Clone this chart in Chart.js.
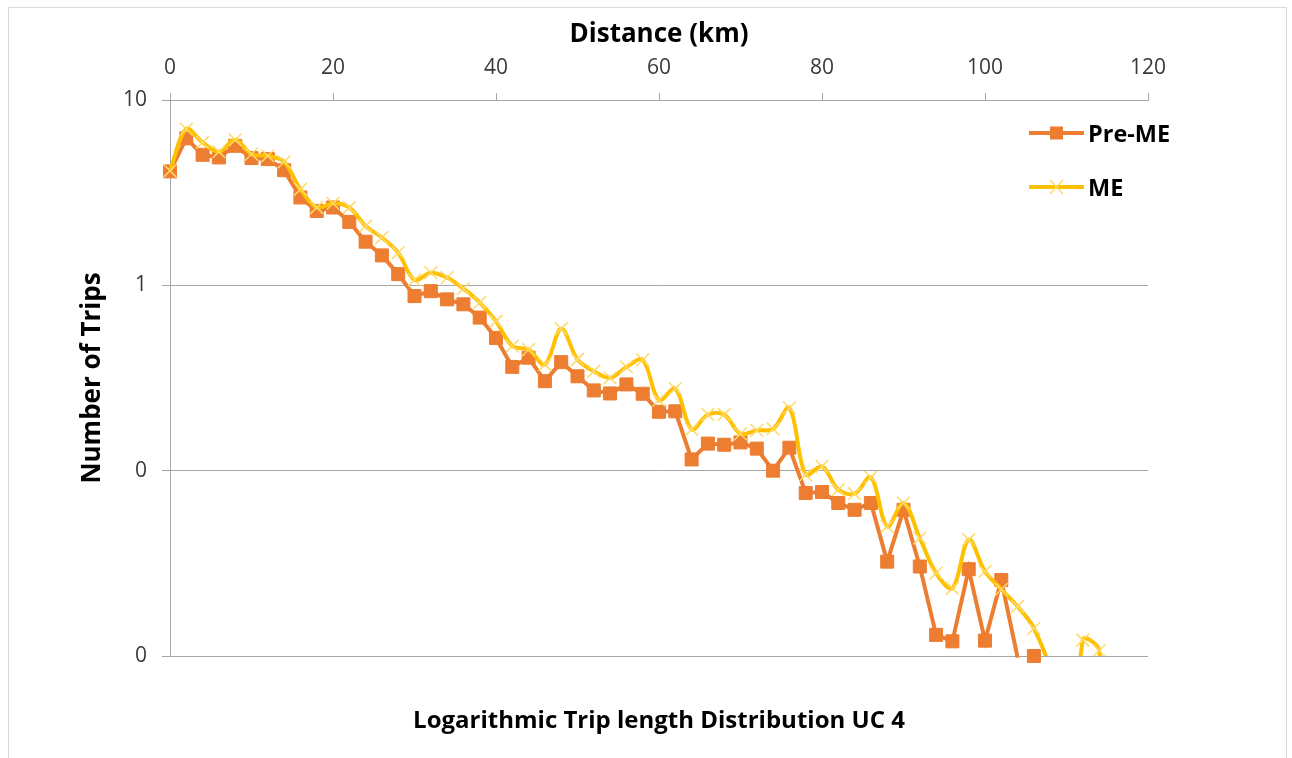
<!DOCTYPE html>
<html>
<head>
<meta charset="utf-8">
<title>Logarithmic Trip length Distribution UC 4</title>
<script src="https://cdn.jsdelivr.net/npm/chart.js@4"></script>
<style>
  html, body { margin: 0; padding: 0; background: #fff; }
  body { width: 1292px; height: 758px; position: relative; overflow: hidden; font-family: 'Open Sans', Lato, sans-serif; }
  #frame { position: absolute; left: 8px; top: 7px; width: 1279px; height: 780px; border: 1px solid #d9d9d9; box-sizing: border-box; }
  #wrap { position: absolute; left: 0; top: 0; width: 1292px; height: 758px; }
  .legend-item { position: absolute; left: 1029px; height: 30px; display: flex; align-items: center; font-weight: 700; font-size: 23.5px; color: #000; }
  .legend-item svg { margin-right: 4px; }
</style>
</head>
<body>
<div id="frame"></div>
<div id="wrap"><canvas id="tripChart" width="1292" height="758"></canvas></div>

<div class="legend-item" style="top:118px;">
  <svg width="55" height="20"><line x1="0" y1="10" x2="55" y2="10" stroke="#ED7D31" stroke-width="4"/><rect x="21" y="3.5" width="13" height="13" fill="#ED7D31"/></svg>
  <span>Pre-ME</span>
</div>
<div class="legend-item" style="top:172px;">
  <svg width="55" height="20"><line x1="0" y1="10" x2="55" y2="10" stroke="#FFC000" stroke-width="4"/><path d="M21 3 L34 17 M34 3 L21 17" stroke="#FFD966" stroke-width="1.5"/></svg>
  <span>ME</span>
</div>

<script>
// distance bins (km)
const distances = [0, 2, 4, 6, 8, 10, 12, 14, 16, 18, 20, 22, 24, 26, 28, 30, 32, 34, 36, 38,
    40, 42, 44, 46, 48, 50, 52, 54, 56, 58, 60, 62, 64, 66, 68, 70, 72, 74, 76, 78,
    80, 82, 84, 86, 88, 90, 92, 94, 96, 98, 100, 102, 104, 106, 108, 110, 112, 114, 116];

// number of trips (values below 0.01 fall under the axis)
const preME = [4.12, 6.21, 5.06, 4.90, 5.66, 4.86, 4.80, 4.18, 2.98, 2.52, 2.63, 2.20, 1.72, 1.45, 1.15, 0.875, 0.93, 0.84, 0.79, 0.67,
    0.52, 0.363, 0.407, 0.304, 0.385, 0.323, 0.271, 0.261, 0.292, 0.26, 0.208, 0.209, 0.115, 0.14, 0.138, 0.142, 0.1315, 0.10, 0.133, 0.0758,
    0.0767, 0.0669, 0.0615, 0.0669, 0.0323, 0.0615, 0.0304, 0.013, 0.012, 0.0294, 0.0121, 0.0257, 0.0098, 0.0100, null, null, null, null, null];

const me = [4.15, 6.97, 5.9, 5.26, 6.1, 5.1, 5.0, 4.64, 3.3, 2.63, 2.77, 2.63, 2.09, 1.81, 1.50, 1.07, 1.17, 1.10, 0.96, 0.81,
    0.64, 0.47, 0.45, 0.374, 0.583, 0.398, 0.344, 0.317, 0.363, 0.396, 0.24, 0.277, 0.167, 0.201, 0.201, 0.158, 0.165, 0.168, 0.218, 0.095,
    0.1055, 0.079, 0.0751, 0.092, 0.05, 0.0669, 0.0433, 0.028, 0.0232, 0.0424, 0.0286, 0.0229, 0.0185, 0.0141, 0.008, 0.001, 0.0122, 0.0107, 0.001];

const yTickValues = [0.01, 0.1, 1, 10];
const yTickLabels = ['0', '0', '1', '10'];
const xTickStep = 20;

const Y_MIN = 0.01, Y_MAX = 10;
const GRID = '#a6a6a6';

Chart.defaults.font.family = "'Open Sans', Lato, sans-serif";
Chart.defaults.color = '#3a3a3a';

const toPoints = arr => distances.map((d, i) => ({ x: d, y: arr[i] }));
const markerRadius = r => ctx => (ctx.raw && ctx.raw.y !== null && ctx.raw.y >= Y_MIN) ? r : 0;

new Chart(document.getElementById('tripChart'), {
    type: 'line',
    data: {
        datasets: [
            {
                label: 'ME',
                data: toPoints(me),
                order: 0,
                borderColor: '#FFC000',
                borderWidth: 4,
                tension: 0.35,
                pointStyle: 'crossRot',
                pointRadius: markerRadius(9),
                pointBorderColor: '#FFD966',
                pointBackgroundColor: '#FFD966',
                pointBorderWidth: 1.5,
                clip: { left: 12, top: 12, right: 12, bottom: 0 }
            },
            {
                label: 'Pre-ME',
                data: toPoints(preME),
                order: 1,
                borderColor: '#ED7D31',
                borderWidth: 4,
                tension: 0,
                pointStyle: 'rect',
                pointRadius: markerRadius(9.2),
                pointBorderColor: '#ED7D31',
                pointBackgroundColor: '#ED7D31',
                pointBorderWidth: 1,
                segment: {
                    borderColor: ctx => (preME[ctx.p0DataIndex] !== null && preME[ctx.p0DataIndex] < Y_MIN) ? 'rgba(0,0,0,0)' : undefined
                },
                clip: { left: 12, top: 12, right: 12, bottom: 8 }
            }
        ]
    },
    options: {
        responsive: false,
        animation: false,
        events: [],
        layout: { padding: { left: 0, top: 0, right: 144, bottom: 0 } },
        plugins: {
            legend: { display: false },
            tooltip: { enabled: false },
            title: {
                display: true,
                position: 'bottom',
                fullSize: false,
                text: 'Logarithmic Trip length Distribution UC 4',
                color: '#000',
                font: { size: 24, weight: 'bold' },
                padding: { top: 50.6, bottom: 22.6 }
            }
        },
        scales: {
            x: {
                type: 'linear',
                position: 'top',
                min: 0,
                max: 120,
                ticks: { stepSize: xTickStep, font: { size: 21 }, padding: 12 },
                grid: { drawOnChartArea: false, color: GRID, tickLength: 7 },
                border: { display: true, color: GRID },
                title: {
                    display: true,
                    text: 'Distance (km)',
                    color: '#000',
                    font: { size: 26, weight: 'bold' },
                    padding: { top: 19, bottom: 0 }
                },
                afterFit: scale => { scale.height = 100; }
            },
            y: {
                type: 'logarithmic',
                position: 'left',
                min: Y_MIN,
                max: Y_MAX,
                afterBuildTicks: scale => { scale.ticks = yTickValues.map(v => ({ value: v })); },
                ticks: {
                    font: { size: 21 },
                    padding: 15,
                    callback: value => yTickLabels[yTickValues.indexOf(value)]
                },
                grid: { color: GRID, tickLength: 8 },
                border: { display: true, color: GRID },
                title: {
                    display: true,
                    text: 'Number of Trips',
                    color: '#000',
                    font: { size: 26, weight: 'bold' },
                    padding: { top: 77, bottom: 0 }
                },
                afterFit: scale => { scale.width = 170; }
            }
        }
    }
});
</script>
</body>
</html>
